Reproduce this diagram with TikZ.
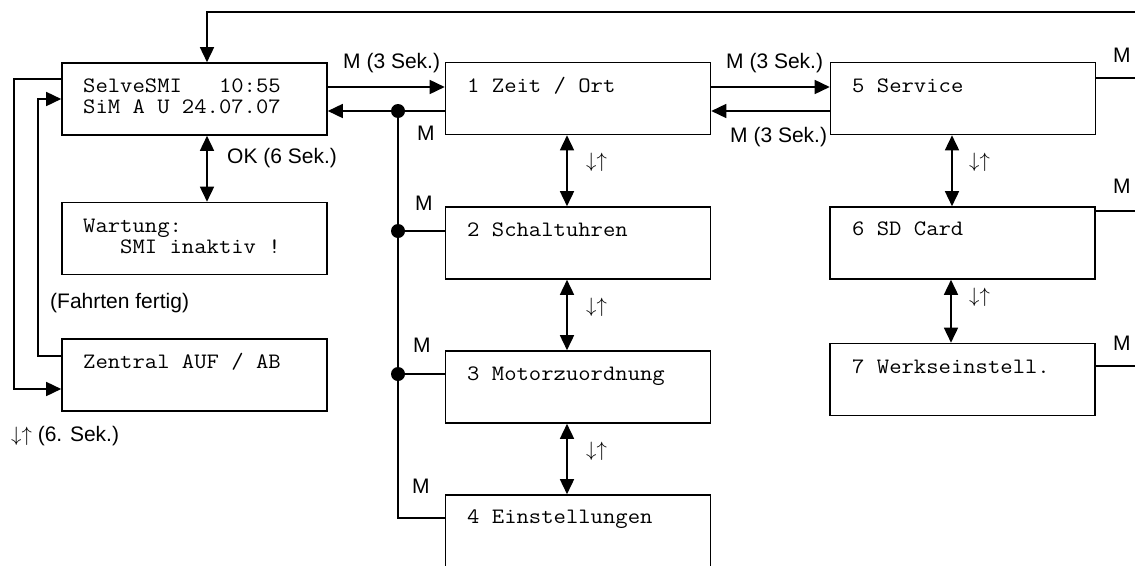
\documentclass[tikz,border=0pt]{standalone}
\usepackage{fontspec}
\usepackage{graphicx}
\setmainfont{Liberation Sans}
\usetikzlibrary{arrows.meta}

\newcommand{\updn}{$\downarrow\uparrow$}
% typewriter text, widened to the display's character pitch
\newcommand{\lcd}[1]{\scalebox{1.09}[1]{#1}}

\begin{document}
\begin{tikzpicture}[x=1pt,y=-1pt,
  screen/.style={draw, line width=1.6pt, minimum width=265pt, minimum height=72pt, inner sep=0pt},
  disp/.style={anchor=base west, inner sep=0pt, font=\ttfamily\fontsize{22}{24}\selectfont},
  lbl/.style={anchor=base west, inner sep=0pt, font=\fontsize{21}{23}\selectfont},
  wire/.style={line width=1.6pt},
  arr/.style={wire, -{Triangle[length=15pt,width=14pt]}},
  darr/.style={wire, {Triangle[length=15pt,width=14pt]}-{Triangle[length=15pt,width=14pt]}},
  dot/.style={circle, fill, minimum size=14pt, inner sep=0pt}]

\useasboundingbox (0,0) rectangle (1135,565);
\clip (0,0) rectangle (1135,565);

% display screens
\node[screen] (b0) at (194.5,99) {};
\node[screen] (bW) at (194.5,238.5) {};
\node[screen] (bZ) at (194.5,375) {};
\node[screen] (b1) at (578,98.5) {};
\node[screen] (b2) at (578,243) {};
\node[screen] (b3) at (578,387) {};
\node[screen] (b4) at (578,531) {};
\node[screen] (b5) at (963,98.5) {};
\node[screen] (b6) at (962.5,243) {};
\node[screen] (b7) at (962.5,379.5) {};

% screen contents
\node[disp] (t0a) at (83,92) {\lcd{SelveSMI~~~10:55}};
\node[disp] (t0b) at (83,113.5) {\lcd{SiM A U 24.07.07}};
\node[disp] (tWa) at (83,232) {\lcd{Wartung:}};
\node[disp] (tWb) at (83,253) {\lcd{~~~SMI inaktiv !}};
\node[disp] (tZ) at (83,368) {\lcd{Zentral AUF / AB}};
\node[disp] (t1) at (467,92) {\lcd{1 Zeit / Ort}};
\node[disp] (t2) at (467,236) {\lcd{2 Schaltuhren}};
\node[disp] (t3) at (467,380) {\lcd{3 Motorzuordnung}};
\node[disp] (t4) at (467,523) {\lcd{4 Einstellungen}};
\node[disp] (t5) at (852,92) {\lcd{5 Service}};
\node[disp] (t6) at (852,235) {\lcd{6 SD Card}};
\node[disp] (t7) at (852,373) {\lcd{7 Werkseinstell.}};

% main menu <-> menu 1
\draw[arr] (b0.east |- 0,87) -- (b1.west |- 0,87);
\draw[arr] (b1.west |- 0,111) -- (b0.east |- 0,111);
\node[lbl] (m01) at (343,68) {M (3 Sek.)};

% menu 1 <-> menu 5
\draw[arr] (b1.east |- 0,87) -- (b5.west |- 0,87);
\draw[arr] (b5.west |- 0,111) -- (b1.east |- 0,111);
\node[lbl] (m15) at (726,68) {M (3 Sek.)};
\node[lbl] (m51) at (730,142) {M (3 Sek.)};

% M bus from menus 2..4 back to main menu
\node[dot] (j0) at (398,111) {};
\node[dot] (j2) at (398,231) {};
\node[dot] (j3) at (398,374) {};
\coordinate (j4) at (398,518);
\draw[wire] (j0.center) -- (j4) -- (b4.west |- j4);
\draw[wire] (j2.center) -- (b2.west |- j2);
\draw[wire] (j3.center) -- (b3.west |- j3);
\node[lbl] (mb1) at (417,140) {M};
\node[lbl] (mb2) at (415,210) {M};
\node[lbl] (mb3) at (413,352) {M};
\node[lbl] (mb4) at (412,493) {M};

% up/down navigation
\draw[darr] (b0.south -| 207,0) -- (bW.north -| 207,0);
\node[lbl] (ok) at (227,163) {OK (6 Sek.)};
\draw[darr] (b1.south -| 567,0) -- (b2.north -| 567,0);
\draw[darr] (b2.south -| 567,0) -- (b3.north -| 567,0);
\draw[darr] (b3.south -| 567,0) -- (b4.north -| 567,0);
\draw[darr] (b5.south -| 952,0) -- (b6.north -| 952,0);
\draw[darr] (b6.south -| 951,0) -- (b7.north -| 951,0);
\node[lbl] (ud1) at (586,167) {\updn};
\node[lbl] (ud2) at (586,312) {\updn};
\node[lbl] (ud3) at (586,456) {\updn};
\node[lbl] (ud5) at (969,167) {\updn};
\node[lbl] (ud6) at (969,302) {\updn};

% main menu <-> Zentral AUF / AB
\draw[arr] (b0.west |- 0,79) -- (14,79) -- (14,389) -- (bZ.west |- 0,389);
\draw[arr] (bZ.west |- 0,356) -- (38,356) -- (38,99) -- (b0.west |- 0,99);
\node[lbl] (fert) at (50,308) {(Fahrten fertig)};
\node[lbl] (six) at (11,441) {\updn{} (6. Sek.)};

% M from menus 5..7 back to main menu
\coordinate (r5) at (1140,78);
\coordinate (r6) at (1140,211);
\coordinate (r7) at (1140,366);
\coordinate (rt) at (1140,12);
\coordinate (lt) at (207,12);
\draw[wire] (b5.east |- r5) -- (r5);
\draw[wire] (b6.east |- r6) -- (r6);
\draw[wire] (b7.east |- r7) -- (r7) -- (rt);
\draw[arr] (rt) -- (lt) -- (b0.north -| lt);
\node[lbl] (mr5) at (1113,62) {M};
\node[lbl] (mr6) at (1113,193) {M};
\node[lbl] (mr7) at (1113,350) {M};

\end{tikzpicture}
\end{document}
